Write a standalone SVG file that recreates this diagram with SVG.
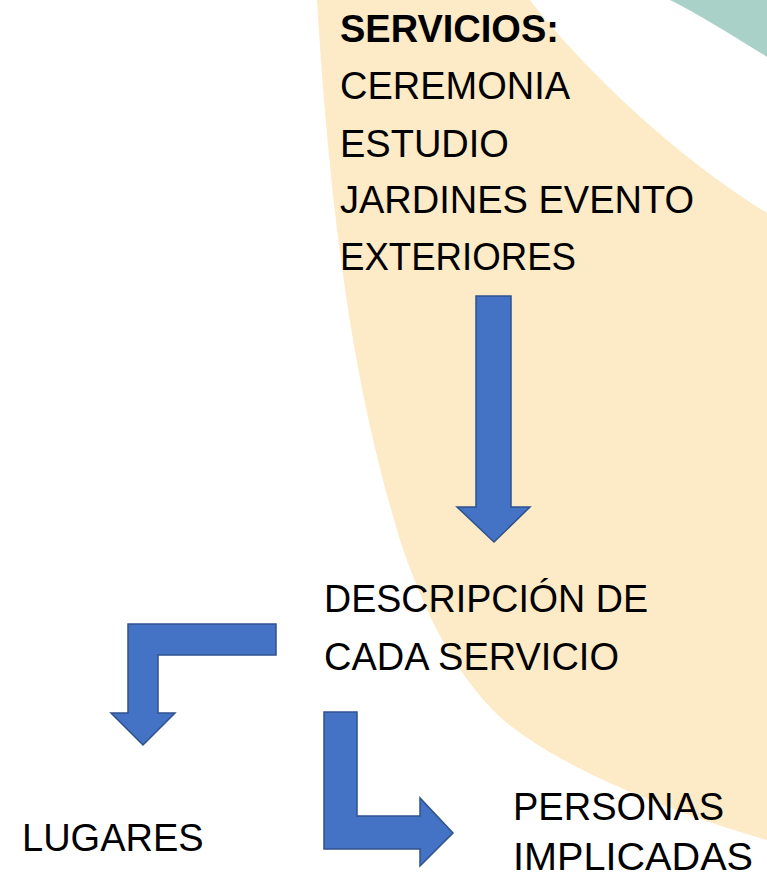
<svg xmlns="http://www.w3.org/2000/svg" width="767" height="879" viewBox="0 0 767 879">
<style>
.t{font-family:"Liberation Sans",Arial,sans-serif;font-size:38px;fill:#000}
.b{font-weight:bold}
.arr{fill:#4472C4;stroke:#2F528F;stroke-width:1.5;stroke-linejoin:miter}
</style>
<rect width="767" height="879" fill="#ffffff"/>
<g id="background">
<path d="M317,0 L530,0 C560,40 650,140 767,213 L767,840 C680,815 560,770 500,717 C450,670 420,600 400,540 C370,440 335,300 317,0 Z" fill="#FDEAC6"/>
<path d="M670,0 C700,15 740,40 767,57 L767,0 Z" fill="#A9D1C7"/>
</g>
<g id="servicios">
<text class="t b" x="340" y="42">SERVICIOS:</text>
<text class="t" x="340" y="99">CEREMONIA</text>
<text class="t" x="340" y="157">ESTUDIO</text>
<text class="t" x="340" y="213">JARDINES EVENTO</text>
<text class="t" x="340" y="270" textLength="236" lengthAdjust="spacingAndGlyphs">EXTERIORES</text>
</g>
<g id="descripcion">
<text class="t" x="324" y="612" textLength="324" lengthAdjust="spacingAndGlyphs">DESCRIPCIÓN DE</text>
<text class="t" x="324" y="670">CADA SERVICIO</text>
</g>
<g id="lugares">
<text class="t" x="22" y="851">LUGARES</text>
</g>
<g id="personas">
<text class="t" x="513" y="820">PERSONAS</text>
<text class="t" x="513" y="870" textLength="240" lengthAdjust="spacingAndGlyphs">IMPLICADAS</text>
</g>
<g id="connectors">
<path class="arr" d="M476,296 L511,296 L511,507 L530,507 L494,542 L457,507 L476,507 Z"/>
<path class="arr" d="M276,624 L276,655 L158,655 L158,713 L175,713 L143,745 L111,713 L128,713 L128,624 Z"/>
<path class="arr" d="M324,712 L357,712 L357,816 L420,816 L420,798 L453,833 L420,866 L420,849 L324,849 Z"/>
</g>
</svg>
